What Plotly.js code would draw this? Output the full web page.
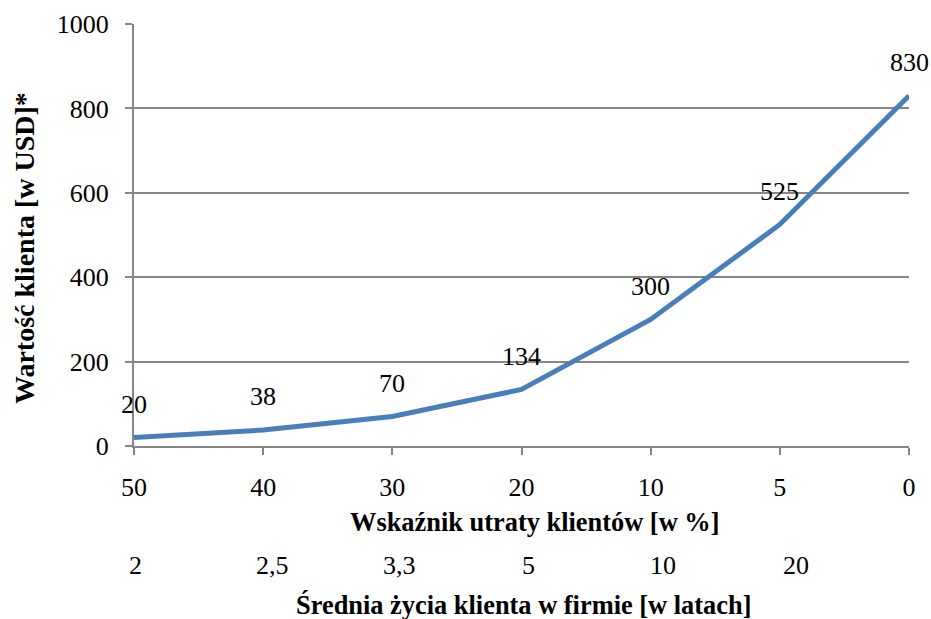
<!DOCTYPE html>
<html>
<head>
<meta charset="utf-8">
<script src="https://cdn.plot.ly/plotly-3.0.1.min.js"></script>
<style>
  html, body { margin: 0; padding: 0; background: #fff; }
  #chart { width: 931px; height: 619px; }
</style>
</head>
<body>
<div id="chart"></div>
<script>
// Customer churn rate [%] (primary category labels)
const churnRate = ['50', '40', '30', '20', '10', '5', '0'];
// Average customer lifetime in the company [years] (secondary labels)
const lifetimeYears = ['2', '2,5', '3,3', '5', '10', '20'];
// Customer value [USD]
const customerValue = [20, 38, 70, 134, 300, 525, 830];

const idx = churnRate.map((_, i) => i);
const FONT = 'Liberation Serif';
const gridGray = '#868686';
const txt = (size) => ({ family: FONT, size: size, color: '#000' });

const trace = {
  x: idx,
  y: customerValue,
  type: 'scatter',
  mode: 'lines',
  line: { color: '#4a7ebb', width: 5 },
  hoverinfo: 'skip'
};

// value labels above each point
const valueLabels = customerValue.map((v, i) => ({
  x: i, y: v, xref: 'x', yref: 'y',
  text: String(v), showarrow: false,
  yshift: 33, yanchor: 'middle', xanchor: 'center',
  font: txt(26)
}));

// second row of category labels, slightly offset to the right
const lifeShift = [1.5, 9, 7, 7, 12, 16];
const lifeLabels = lifetimeYears.map((t, i) => ({
  x: i, y: -0.282, xref: 'x', yref: 'paper',
  text: t, showarrow: false, xshift: lifeShift[i],
  xanchor: 'center', yanchor: 'middle',
  font: txt(26)
}));

const titles = [
  {
    x: 0.517, y: -0.180, xref: 'paper', yref: 'paper',
    text: '<b>Wskaźnik utraty klientów [w %]</b>', showarrow: false,
    xanchor: 'center', yanchor: 'middle',
    font: txt(26.4)
  },
  {
    x: 0.502, y: -0.377, xref: 'paper', yref: 'paper',
    text: '<b>Średnia życia klienta w firmie [w latach]</b>', showarrow: false,
    xanchor: 'center', yanchor: 'middle',
    font: txt(26.4)
  },
  {
    x: -0.142, y: 0.469, xref: 'paper', yref: 'paper',
    text: '<b>Wartość klienta [w USD]*</b>', showarrow: false,
    textangle: -90, xanchor: 'center', yanchor: 'middle',
    font: txt(28)
  }
];

const layout = {
  width: 931,
  height: 619,
  margin: { l: 134, r: 22, t: 24, b: 173 },
  paper_bgcolor: '#fff',
  plot_bgcolor: '#fff',
  showlegend: false,
  font: txt(26),
  xaxis: {
    range: [0, 6],
    tickvals: idx,
    ticktext: churnRate,
    showgrid: false,
    zeroline: false,
    showline: true,
    linecolor: gridGray,
    linewidth: 2,
    ticks: 'outside',
    ticklen: 7,
    tickwidth: 2,
    tickcolor: gridGray,
    ticklabelstandoff: 10,
    tickfont: txt(26)
  },
  yaxis: {
    range: [0, 1000],
    tickvals: [0, 200, 400, 600, 800, 1000],
    showgrid: true,
    gridcolor: gridGray,
    gridwidth: 2,
    zeroline: false,
    showline: true,
    linecolor: gridGray,
    linewidth: 2,
    ticks: 'outside',
    ticklen: 7,
    tickwidth: 2,
    tickcolor: gridGray,
    ticklabelstandoff: 11,
    tickfont: txt(26)
  },
  annotations: valueLabels.concat(lifeLabels, titles)
};

Plotly.newPlot('chart', [trace], layout, { displayModeBar: false, staticPlot: true });
</script>
</body>
</html>
